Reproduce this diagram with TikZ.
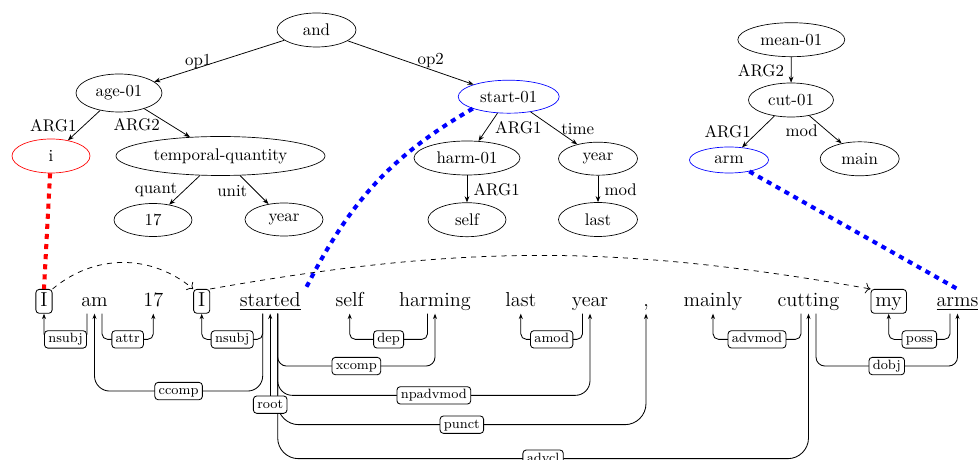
\documentclass[tikz,border=0pt]{standalone}
\usetikzlibrary{shapes.geometric,arrows.meta,calc}
\begin{document}
\begin{tikzpicture}[x=0.5931pt,y=-0.5931pt,
  amr/.style={ellipse,draw,inner sep=0pt,font=\normalsize},
  sz/.style 2 args={minimum width=#1*0.5931pt,minimum height=#2*0.5931pt},
  rel/.style={-{Stealth[length=3.6pt,width=2.8pt]},line width=0.45pt},
  rlab/.style={inner sep=0pt,font=\normalsize},
  word/.style={font=\large,anchor=base,inner xsep=2.7pt,inner ysep=1.75pt,text height=8.4pt,text depth=2.3pt},
  boxed/.style={draw,rounded corners=2pt,line width=0.5pt},
  dep/.style={-{Stealth[length=3.2pt,width=2.4pt]},line width=0.5pt},
  deplab/.style={draw,fill=white,rounded corners=2pt,font=\footnotesize,inner xsep=2.3pt,inner ysep=1.55pt,text height=5.6pt,text depth=1.6pt,line width=0.5pt},
  coref/.style={dashed,-{To[length=3pt]},line width=0.45pt},
  alignline/.style={line width=2.4pt,dashed}
]
\useasboundingbox (0,0) rectangle (979,460);

% ---------- AMR graph: first sentence ----------
\node[amr,sz={79}{34}] (and) at (316.5,30) {and};
\node[amr,sz={86}{38}] (age) at (119,93) {age-01};
\node[amr,sz={78}{34},draw=red] (i) at (51,156) {i};
\node[amr,sz={209}{39}] (tq) at (220.5,156) {temporal-quantity};
\node[amr,sz={78}{33}] (n17) at (153,220) {17};
\node[amr,sz={78}{33}] (yearA) at (284,219.5) {year};
\node[amr,sz={101}{33},draw=blue] (start) at (508.7,96.7) {start-01};
\node[amr,sz={106}{34}] (harm) at (467,158) {harm-01};
\node[amr,sz={79}{33}] (yearB) at (598,158.7) {year};
\node[amr,sz={78}{34}] (self) at (467,219.7) {self};
\node[amr,sz={79}{34}] (last) at (598,219.5) {last};

\draw[rel] (and) -- (age);
\draw[rel] (and) -- (start);
\draw[rel] (age) -- (i);
\draw[rel] (age) -- (tq);
\draw[rel] (tq) -- (n17);
\draw[rel] (tq) -- (yearA);
\draw[rel] (start) -- (harm);
\draw[rel] (start) -- (yearB);
\draw[rel] (harm) -- (self);
\draw[rel] (yearB) -- (last);

\node[rlab] (r-op1) at (198.3,61.5) {op1};
\node[rlab] (r-op2) at (430.7,61) {op2};
\node[rlab] (r-arg1a) at (53.3,125.7) {ARG1};
\node[rlab] (r-arg2a) at (136.7,125) {ARG2};
\node[rlab] (r-quant) at (156,190) {quant};
\node[rlab] (r-unit) at (232.3,191) {unit};
\node[rlab] (r-arg1b) at (518.3,127.7) {ARG1};
\node[rlab] (r-time) at (577.7,129) {time};
\node[rlab] (r-arg1c) at (496.7,190) {ARG1};
\node[rlab] (r-mod1) at (620.7,190) {mod};

% ---------- AMR graph: second sentence ----------
\node[amr,sz={107}{34}] (mean) at (791.3,39.7) {mean-01};
\node[amr,sz={85}{34}] (cut) at (791,100) {cut-01};
\node[amr,sz={79}{26},draw=blue] (arm) at (729,160) {arm};
\node[amr,sz={79}{34}] (main) at (859.7,158.8) {main};

\draw[rel] (mean) -- (cut);
\draw[rel] (cut) -- (arm);
\draw[rel] (cut) -- (main);

\node[rlab] (r-arg2b) at (761,70.7) {ARG2};
\node[rlab] (r-arg1d) at (727.7,131.7) {ARG1};
\node[rlab] (r-mod2) at (801.7,131) {mod};

% ---------- sentence ----------
\node[word,boxed] (w1) at (44,306.5) {I};
\node[word] (w2) at (94.5,306.5) {am};
\node[word] (w3) at (153.3,306.5) {17};
\node[word,boxed] (w4) at (201.7,306.5) {I};
\node[word] (w5) at (270.2,306.5) {\underline{started}};
\node[word] (w6) at (349.7,306.5) {self};
\node[word] (w7) at (435,306.5) {harming};
\node[word] (w8) at (520.8,306.5) {last};
\node[word] (w9) at (590,306.5) {year};
\node[word] (w10) at (646,306.5) {,};
\node[word] (w11) at (713,306.5) {mainly};
\node[word] (w12) at (808.5,306.5) {cutting};
\node[word,boxed] (w13) at (888.7,306.5) {my};
\node[word] (w14) at (957.5,306.5) {\underline{arms}};

% ---------- dependency edges (head leg, level, dependent) ----------
\draw[dep,rounded corners=3.3pt] ($(w2.south)+(-7.5,0)$) -- ++(0,25.7)
  -- node[deplab] (d-nsubj1) {nsubj} ($(w1.south)+(0,25.7)$) -- (w1.south);
\draw[dep,rounded corners=3.3pt] ($(w2.south)+(7.5,0)$) -- ++(0,25.7)
  -- node[deplab] (d-attr) {attr} ($(w3.south)+(0,25.7)$) -- (w3.south);
\draw[dep,rounded corners=3.3pt] ($(w5.south)+(-7.5,0)$) -- ++(0,25.7)
  -- node[deplab] (d-nsubj2) {nsubj} ($(w4.south)+(0,25.7)$) -- (w4.south);
\draw[dep,rounded corners=9pt] ($(w5.south)+(-7.5,0)$) -- ++(0,77.4)
  -- node[deplab] (d-ccomp) {ccomp} ($(w2.south)+(0,77.4)$) -- (w2.south);
\draw[dep,rounded corners=3.3pt] ($(w7.south)+(-7.5,0)$) -- ++(0,25.7)
  -- node[deplab] (d-dep) {dep} ($(w6.south)+(0,25.7)$) -- (w6.south);
\draw[dep,rounded corners=5.3pt] ($(w5.south)+(7.5,0)$) -- ++(0,52.4)
  -- node[deplab] (d-xcomp) {xcomp} ($(w7.south)+(0,52.4)$) -- (w7.south);
\draw[dep,rounded corners=3.3pt] ($(w9.south)+(-7.5,0)$) -- ++(0,25.7)
  -- node[deplab] (d-amod) {amod} ($(w8.south)+(0,25.7)$) -- (w8.south);
\draw[dep,rounded corners=8.7pt] ($(w5.south)+(7.5,0)$) -- ++(0,81.7)
  -- node[deplab] (d-npadvmod) {npadvmod} ($(w9.south)+(0,81.7)$) -- (w9.south);
\draw[dep,rounded corners=12.5pt] ($(w5.south)+(7.5,0)$) -- ++(0,111)
  -- node[deplab] (d-punct) {punct} ($(w10.south)+(0,111)$) -- (w10.south);
\draw[dep,rounded corners=12.3pt] ($(w5.south)+(7.5,0)$) -- ++(0,145)
  -- node[deplab] (d-advcl) {advcl} ($(w12.south)+(0,145)$) -- (w12.south);
\draw[dep,rounded corners=3.3pt] ($(w12.south)+(-7.5,0)$) -- ++(0,25.7)
  -- node[deplab] (d-advmod) {advmod} ($(w11.south)+(0,25.7)$) -- (w11.south);
\draw[dep,rounded corners=3.3pt] ($(w14.south)+(-7.5,0)$) -- ++(0,25.7)
  -- node[deplab] (d-poss) {poss} ($(w13.south)+(0,25.7)$) -- (w13.south);
\draw[dep,rounded corners=5.3pt] ($(w12.south)+(7.5,0)$) -- ++(0,52.4)
  -- node[deplab] (d-dobj) {dobj} ($(w14.south)+(0,52.4)$) -- (w14.south);

% root
\node[deplab] (d-root) at ($(w5.south)+(0,91)$) {root};
\draw[dep] (d-root.north) -- (w5.south);

% ---------- coreference ----------
\draw[coref] (w1.north east) to[bend left=40] (w4.north west);
\draw[coref] (w4.north east) to[bend left=10] (w13.north west);

% ---------- alignments between AMR concepts and tokens ----------
\draw[alignline,red] (i) -- (w1.north);
\draw[alignline,blue] (start.south west) to[out=210,in=63] (w5.north east);
\draw[alignline,blue] (arm) -- (w14.north);

\end{tikzpicture}
\end{document}
